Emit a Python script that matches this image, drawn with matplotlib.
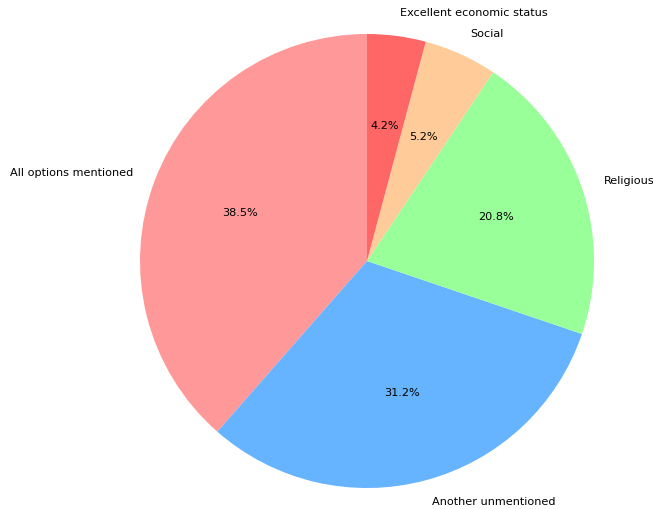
import matplotlib
matplotlib.use("Agg")
import matplotlib.pyplot as plt

labels = ["All options mentioned", "Another unmentioned", "Religious", "Social", "Excellent economic status"]
counts = [37, 30, 20, 5, 4]
colors = ["#ff9999", "#66b3ff", "#99ff99", "#ffcc99", "#ff6666"]

W, H = 653, 509
fig = plt.figure(figsize=(W / 100, H / 100), dpi=100)
ax = fig.add_axes([0, 0, 1, 1])
ax.pie(counts, labels=labels, colors=colors, autopct="%1.1f%%", startangle=90,
       textprops={"fontsize": 8.1})
cx, cy, r = 367, 261, 227
ax.set_xlim(-cx / r, (W - cx) / r)
ax.set_ylim(-(H - cy) / r, cy / r)
ax.set_aspect("auto")
ax.axis("off")
fig.savefig("out.png", dpi=100)
